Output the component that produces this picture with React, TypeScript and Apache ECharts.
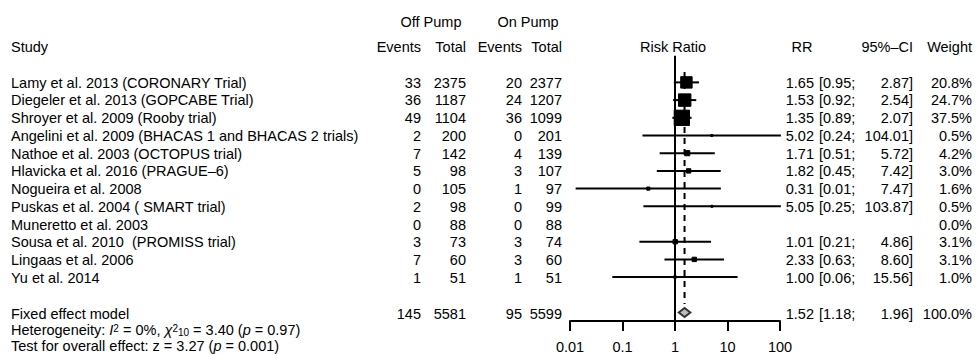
import React, { useEffect, useRef } from "react";
import * as echarts from "echarts";

// ---------------- data ----------------
const studies = [
  "Lamy et al. 2013 (CORONARY Trial)",
  "Diegeler et al. 2013 (GOPCABE Trial)",
  "Shroyer et al. 2009 (Rooby trial)",
  "Angelini et al. 2009 (BHACAS 1 and BHACAS 2 trials)",
  "Nathoe et al. 2003 (OCTOPUS trial)",
  "Hlavicka et al. 2016 (PRAGUE–6)",
  "Nogueira et al. 2008",
  "Puskas et al. 2004 ( SMART trial)",
  "Muneretto et al. 2003",
  "Sousa et al. 2010  (PROMISS trial)",
  "Lingaas et al. 2006",
  "Yu et al. 2014",
];
const offEvents = [33, 36, 49, 2, 7, 5, 0, 2, 0, 3, 7, 1];
const offTotal = [2375, 1187, 1104, 200, 142, 98, 105, 98, 88, 73, 60, 51];
const onEvents = [20, 24, 36, 0, 4, 3, 1, 0, 0, 3, 3, 1];
const onTotal = [2377, 1207, 1099, 201, 139, 107, 97, 99, 88, 74, 60, 51];
const rr: (number | null)[] = [1.65, 1.53, 1.35, 5.02, 1.71, 1.82, 0.31, 5.05, null, 1.01, 2.33, 1.0];
const ciLower: (number | null)[] = [0.95, 0.92, 0.89, 0.24, 0.51, 0.45, 0.0128, 0.25, null, 0.21, 0.63, 0.064];
const ciUpper: (number | null)[] = [2.87, 2.54, 2.07, 104.01, 5.72, 7.42, 7.47, 103.87, null, 4.86, 8.6, 15.56];
const weights = [20.8, 24.7, 37.5, 0.5, 4.2, 3.0, 1.6, 0.5, 0.0, 3.1, 3.1, 1.0];

const fixedLabel = "Fixed effect model";
const fixedTotals = [145, 5581, 95, 5599];
const fixedRR = 1.52;
const fixedLower = 1.18;
const fixedUpper = 1.96;
const fixedWeight = 100.0;

const xTickValues = [0.01, 0.1, 1, 10, 100];
const xTickLabels = ["0.01", "0.1", "1", "10", "100"];

// ---------------- layout ----------------
const W = 976;
const H = 354;
const FONT = "'Liberation Sans', Arial, Helvetica, sans-serif";
const FS = 14.5;
const ROW0_Y = 82.5;
const ROW_H = 17.77;
const FIXED_ROW = 13;
const HET_ROW = 13.95;
const TEST_ROW = 14.82;
const HDR1_ROW = -3.43;
const HDR2_ROW = -2.0;
const FOREST_TOP_ROW = -1.5;
const AXIS_ROW = 13.48;
const DASH_TOP_ROW = -0.59;
const DASH_BOTTOM_ROW = 12.52;
const FOREST_LEFT = 570;
const FOREST_WIDTH = 210;
const SQ_K = 2.5;
const SQ_MIN = 2;

const COL = {
  study: 11,
  offEv: 421,
  offTot: 466,
  onEv: 522,
  onTot: 562,
  offHdr: 431,
  onHdr: 528,
  riskHdr: 673,
  rr: 814,
  rrHdr: 802,
  ciL: 819,
  ciR: 913,
  weight: 972,
};

type TextItem = {
  x: number;
  row: number;
  text: string;
  align: "left" | "right" | "center";
  fontSize?: number;
  rich?: any;
  lineHeight?: number;
};

function textSeries(items: TextItem[]) {
  return {
    type: "custom",
    xAxisIndex: 1,
    yAxisIndex: 1,
    silent: true,
    clip: false,
    z: 5,
    data: items.map((it) => [it.x, it.row]),
    renderItem: (params: any, api: any) => {
      const it = items[params.dataIndex];
      const p = api.coord([api.value(0), api.value(1)]);
      const style: any = {
        text: it.text,
        align: it.align,
        verticalAlign: "middle",
        fontFamily: FONT,
        fontSize: it.fontSize ?? FS,
        fill: "#000",
      };
      if (it.rich) style.rich = it.rich;
      if (it.lineHeight) style.lineHeight = it.lineHeight;
      return { type: "text", x: p[0], y: p[1], style };
    },
  };
}

function buildOption() {
  const items: TextItem[] = [];
  // headers
  items.push({ x: COL.offHdr, row: HDR1_ROW, text: "Off Pump", align: "center" });
  items.push({ x: COL.onHdr, row: HDR1_ROW, text: "On Pump", align: "center" });
  items.push({ x: COL.study, row: HDR2_ROW, text: "Study", align: "left" });
  items.push({ x: COL.offEv, row: HDR2_ROW, text: "Events", align: "right" });
  items.push({ x: COL.offTot, row: HDR2_ROW, text: "Total", align: "right" });
  items.push({ x: COL.onEv, row: HDR2_ROW, text: "Events", align: "right" });
  items.push({ x: COL.onTot, row: HDR2_ROW, text: "Total", align: "right" });
  items.push({ x: COL.riskHdr, row: HDR2_ROW, text: "Risk Ratio", align: "center" });
  items.push({ x: COL.rrHdr, row: HDR2_ROW, text: "RR", align: "center" });
  items.push({ x: COL.ciR, row: HDR2_ROW, text: "95%–CI", align: "right" });
  items.push({ x: COL.weight, row: HDR2_ROW, text: "Weight", align: "right" });

  studies.forEach((s, i) => {
    items.push({ x: COL.study, row: i, text: s, align: "left" });
    items.push({ x: COL.offEv, row: i, text: String(offEvents[i]), align: "right" });
    items.push({ x: COL.offTot, row: i, text: String(offTotal[i]), align: "right" });
    items.push({ x: COL.onEv, row: i, text: String(onEvents[i]), align: "right" });
    items.push({ x: COL.onTot, row: i, text: String(onTotal[i]), align: "right" });
    const r = rr[i];
    const lo = ciLower[i];
    const up = ciUpper[i];
    if (r != null && lo != null && up != null) {
      items.push({ x: COL.rr, row: i, text: r.toFixed(2), align: "right" });
      items.push({ x: COL.ciL, row: i, text: "[" + lo.toFixed(2) + ";", align: "left" });
      items.push({ x: COL.ciR, row: i, text: up.toFixed(2) + "]", align: "right" });
    }
    items.push({ x: COL.weight, row: i, text: weights[i].toFixed(1) + "%", align: "right" });
  });

  // fixed effect row
  items.push({ x: COL.study, row: FIXED_ROW, text: fixedLabel, align: "left" });
  items.push({ x: COL.offEv, row: FIXED_ROW, text: String(fixedTotals[0]), align: "right" });
  items.push({ x: COL.offTot, row: FIXED_ROW, text: String(fixedTotals[1]), align: "right" });
  items.push({ x: COL.onEv, row: FIXED_ROW, text: String(fixedTotals[2]), align: "right" });
  items.push({ x: COL.onTot, row: FIXED_ROW, text: String(fixedTotals[3]), align: "right" });
  items.push({ x: COL.rr, row: FIXED_ROW, text: fixedRR.toFixed(2), align: "right" });
  items.push({ x: COL.ciL, row: FIXED_ROW, text: "[" + fixedLower.toFixed(2) + ";", align: "left" });
  items.push({ x: COL.ciR, row: FIXED_ROW, text: fixedUpper.toFixed(2) + "]", align: "right" });
  items.push({ x: COL.weight, row: FIXED_ROW, text: fixedWeight.toFixed(1) + "%", align: "right" });

  const HLH = 14;
  const richBase = {
    it: { fontStyle: "italic", fontSize: FS, fontFamily: FONT, lineHeight: HLH },
    sup: { fontSize: 10, fontFamily: FONT, verticalAlign: "top", lineHeight: 6 },
    sub: { fontSize: 10, fontFamily: FONT, verticalAlign: "bottom", lineHeight: 6 },
  };
  items.push({
    x: COL.study,
    row: HET_ROW,
    text: "Heterogeneity: {it|I}{sup|2} = 0%, {it|χ}{sup|2}{sub|10} = 3.40 ({it|p} = 0.97)",
    align: "left",
    rich: richBase,
    lineHeight: HLH,
  });
  items.push({
    x: COL.study,
    row: TEST_ROW,
    text: "Test for overall effect: z = 3.27 ({it|p} = 0.001)",
    align: "left",
    rich: richBase,
    lineHeight: HLH,
  });

  const forestData: number[][] = [];
  studies.forEach((_, i) => {
    const r = rr[i];
    const lo = ciLower[i];
    const up = ciUpper[i];
    if (r != null && lo != null && up != null) forestData.push([r, lo, up, weights[i], i]);
  });

  const option: any = {
    animation: false,
    backgroundColor: "#fff",
    grid: [
      {
        left: FOREST_LEFT,
        width: FOREST_WIDTH,
        top: ROW0_Y + FOREST_TOP_ROW * ROW_H,
        height: (AXIS_ROW - FOREST_TOP_ROW) * ROW_H,
        containLabel: false,
      },
      { left: 0, top: 0, width: W, height: H, containLabel: false },
    ],
    xAxis: [
      {
        type: "log",
        logBase: 10,
        gridIndex: 0,
        min: xTickValues[0],
        max: xTickValues[xTickValues.length - 1],
        position: "bottom",
        axisLine: { show: true, onZero: false, lineStyle: { color: "#000", width: 2 } },
        axisTick: { show: true, inside: false, length: 10, lineStyle: { color: "#000", width: 2 } },
        axisLabel: {
          show: true,
          margin: 18,
          color: "#000",
          fontSize: FS,
          fontFamily: FONT,
          formatter: (v: number) => {
            let best = 0;
            let bd = Infinity;
            xTickValues.forEach((t, k) => {
              const d = Math.abs(Math.log10(t) - Math.log10(v));
              if (d < bd) {
                bd = d;
                best = k;
              }
            });
            return bd < 0.01 ? xTickLabels[best] : "";
          },
        },
        splitLine: { show: false },
        minorTick: { show: false },
      },
      { type: "value", gridIndex: 1, min: 0, max: W, show: false },
    ],
    yAxis: [
      {
        type: "value",
        gridIndex: 0,
        min: FOREST_TOP_ROW,
        max: AXIS_ROW,
        inverse: true,
        show: false,
      },
      {
        type: "value",
        gridIndex: 1,
        min: -ROW0_Y / ROW_H,
        max: (H - ROW0_Y) / ROW_H,
        inverse: true,
        show: false,
      },
    ],
    series: [
      {
        type: "line",
        xAxisIndex: 0,
        yAxisIndex: 0,
        data: [
          [1, FOREST_TOP_ROW],
          [1, AXIS_ROW],
        ],
        symbol: "none",
        silent: true,
        lineStyle: { color: "#000", width: 2 },
        z: 2,
      },
      {
        type: "line",
        xAxisIndex: 0,
        yAxisIndex: 0,
        data: [
          [fixedRR, DASH_TOP_ROW],
          [fixedRR, DASH_BOTTOM_ROW],
        ],
        symbol: "none",
        silent: true,
        lineStyle: { color: "#000", width: 2, type: [6, 5] },
        z: 2,
      },
      {
        type: "custom",
        xAxisIndex: 0,
        yAxisIndex: 0,
        clip: false,
        silent: true,
        z: 3,
        encode: { x: [0, 1, 2], y: 4 },
        data: forestData,
        renderItem: (params: any, api: any) => {
          const row = api.value(4);
          const pC = api.coord([api.value(0), row]);
          const pL = api.coord([api.value(1), row]);
          const pU = api.coord([api.value(2), row]);
          const s = Math.max(SQ_MIN, SQ_K * Math.sqrt(api.value(3)));
          return {
            type: "group",
            children: [
              {
                type: "line",
                shape: { x1: pL[0], y1: pL[1], x2: pU[0], y2: pU[1] },
                style: { stroke: "#000", lineWidth: 2 },
              },
              {
                type: "rect",
                shape: { x: pC[0] - s / 2, y: pC[1] - s / 2, width: s, height: s },
                style: { fill: "#000", stroke: "#000", lineWidth: 1 },
              },
            ],
          };
        },
      },
      {
        type: "custom",
        xAxisIndex: 0,
        yAxisIndex: 0,
        clip: false,
        silent: true,
        z: 4,
        encode: { x: [0, 1, 2], y: 3 },
        data: [[fixedRR, fixedLower, fixedUpper, FIXED_ROW]],
        renderItem: (params: any, api: any) => {
          const row = api.value(3);
          const pC = api.coord([api.value(0), row]);
          const pL = api.coord([api.value(1), row]);
          const pU = api.coord([api.value(2), row]);
          const h = 4.5;
          return {
            type: "polygon",
            shape: {
              points: [
                [pL[0], pL[1]],
                [pC[0], pC[1] - h],
                [pU[0], pU[1]],
                [pC[0], pC[1] + h],
              ],
            },
            style: { fill: "#bdbdbd", stroke: "#333", lineWidth: 2 },
          };
        },
      },
      textSeries(items),
    ],
  };
  return option;
}

export default function App() {
  const ref = useRef<HTMLDivElement>(null);
  useEffect(() => {
    if (!ref.current) return;
    const chart = echarts.init(ref.current, undefined, { renderer: "svg" });
    chart.setOption(buildOption());
    return () => {
      chart.dispose();
    };
  }, []);
  return (
    <div
      ref={ref}
      style={{ position: "fixed", left: 0, top: 0, width: W, height: H, background: "#fff" }}
    />
  );
}
